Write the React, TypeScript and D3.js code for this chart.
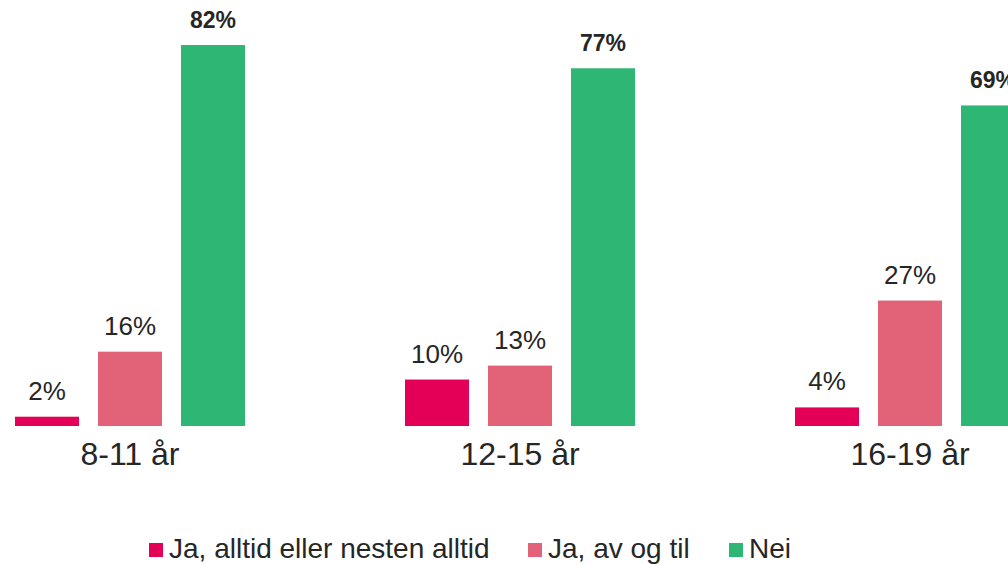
import React from "react";
import * as d3 from "d3";

const categories = ["8-11 år", "12-15 år", "16-19 år"];
const seriesNames = ["Ja, alltid eller nesten alltid", "Ja, av og til", "Nei"];
const alltid = [2, 10, 4];
const avOgTil = [16, 13, 27];
const nei = [82, 77, 69];
const seriesValues = [alltid, avOgTil, nei];
const colors = ["#E40056", "#E26377", "#2EB774"];
const boldLabel = [false, false, true];

const W = 1008;
const H = 564;
const FONT = "'Liberation Sans', Arial, sans-serif";
const TEXT = "#262626";

export default function App() {
  const x0 = d3
    .scaleBand<string>()
    .domain(categories)
    .range([15, 1025])
    .paddingInner(160 / 390)
    .paddingOuter(0);
  const x1 = d3
    .scaleBand<string>()
    .domain(seriesNames)
    .range([0, x0.bandwidth()])
    .paddingInner(19 / 83);
  const y = d3.scaleLinear().domain([0, 100]).range([426, 426 - 464.6]);

  const legendX = [149, 528, 729];

  return (
    <div style={{ position: "fixed", left: 0, top: 0, width: W, height: H, background: "#fff" }}>
      <svg width={W} height={H} style={{ display: "block" }} fontFamily={FONT}>
        <rect x={0} y={0} width={W} height={H} fill="#fff" />
        {categories.map((c, ci) => (
          <g key={c} transform={`translate(${x0(c)},0)`}>
            {seriesNames.map((s, si) => {
              const v = seriesValues[si][ci];
              const bx = x1(s)!;
              const top = y(v);
              return (
                <g key={s}>
                  <rect x={bx} y={top} width={x1.bandwidth()} height={y(0) - top} fill={colors[si]} />
                  <text
                    x={bx + x1.bandwidth() / 2}
                    y={top - 17}
                    textAnchor="middle"
                    fontSize={boldLabel[si] ? 23 : 26}
                    fontWeight={boldLabel[si] ? "bold" : "normal"}
                    fill={TEXT}
                  >
                    {v}%
                  </text>
                </g>
              );
            })}
            <text
              x={x0.bandwidth() / 2}
              y={465}
              textAnchor="middle"
              fontSize={32}
              fill={TEXT}
            >
              {c}
            </text>
          </g>
        ))}
        {seriesNames.map((s, si) => (
          <g key={s} transform={`translate(${legendX[si]},0)`}>
            <rect x={0} y={543} width={14} height={14} fill={colors[si]} />
            <text x={20} y={558} fontSize={28} fill={TEXT}>
              {s}
            </text>
          </g>
        ))}
      </svg>
    </div>
  );
}
